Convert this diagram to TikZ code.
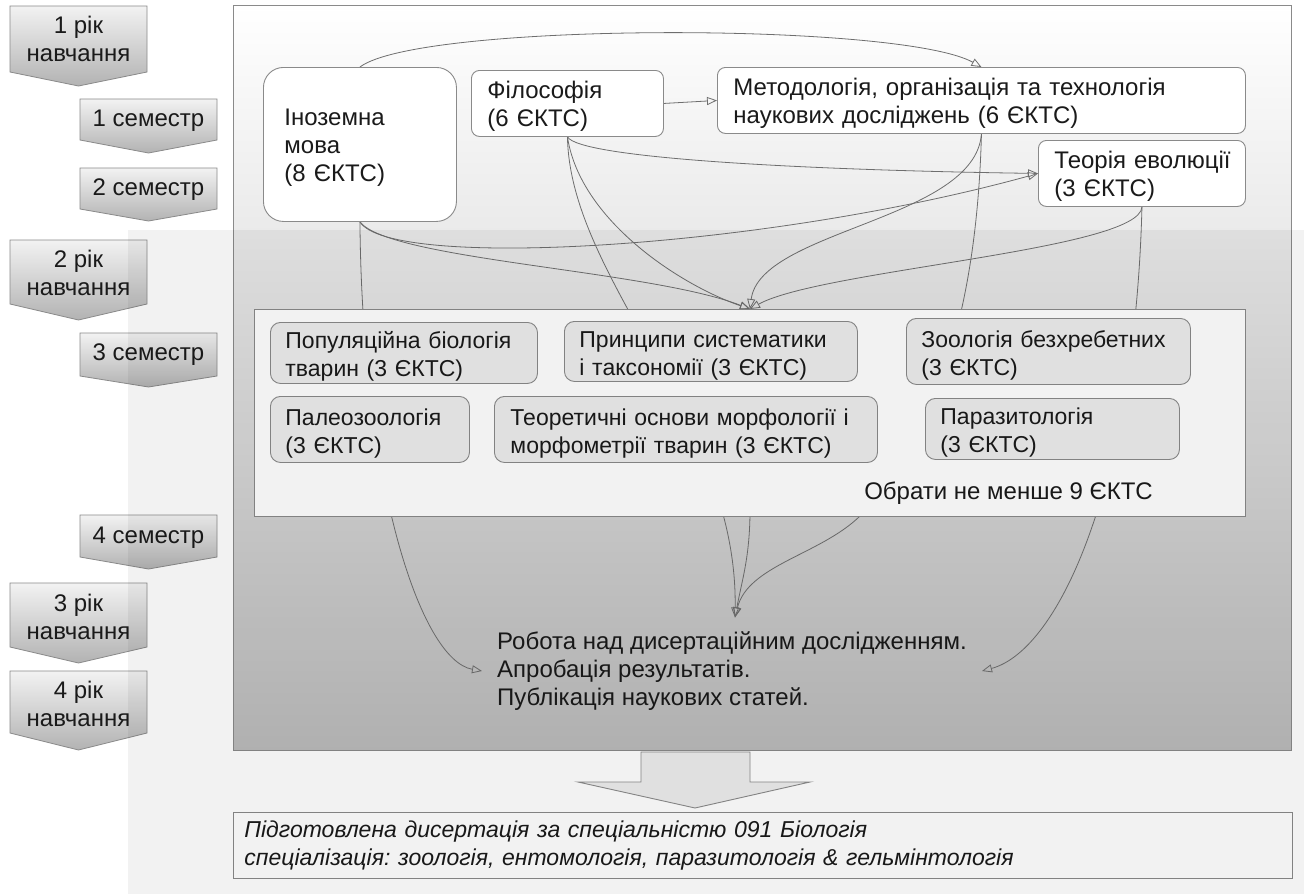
\documentclass[tikz,border=0pt]{standalone}
\usepackage{fontspec}
\setmainfont{Liberation Sans}
\usetikzlibrary{arrows.meta}
\frenchspacing
\pgfdeclarelayer{bg}
\pgfdeclarelayer{lines}
\pgfdeclarelayer{fg}
\pgfsetlayers{bg,lines,main,fg}
\definecolor{ln}{HTML}{6E6E6E}
\definecolor{bd}{HTML}{8A8A8A}
\definecolor{elf}{HTML}{EDEDED}
\definecolor{txt}{HTML}{1A1A1A}
\tikzset{
  conn/.style={draw=ln, line width=0.8pt, -{Triangle[open,length=10pt,width=8pt]}},
  topbox/.style={draw=bd, fill=white, line width=0.9pt, rounded corners=8pt, anchor=north west,
    align=left, inner xsep=16pt, inner ysep=0pt, text height=23pt, font=\fontsize{24}{28}\selectfont, text=txt},
  elbox/.style={draw=bd, fill=elf, line width=0.9pt, rounded corners=10pt, anchor=north west,
    align=left, inner xsep=15pt, inner ysep=0pt, text height=24pt, font=\fontsize{23}{28}\selectfont, text=txt},
  chev/.style={draw=bd, line width=0.8pt, top color=white!95!black, bottom color=white!70!black},
  chevtext/.style={align=center, font=\fontsize{24}{28}\selectfont, text=txt, inner sep=0pt},
}
\newcommand\mychev[8]{%
  \shade[chev] (#2,#4) -- (#3,#4) -- (#3,#5) -- ({(#2+#3)/2},#6) -- (#2,#5) -- cycle;
  \node[chevtext] (#1) at ({(#2+#3)/2},#7) {#8};}
\begin{document}
\begin{tikzpicture}[x=1pt,y=-1pt]
\useasboundingbox (0,0) rectangle (1304,894);
\begin{pgfonlayer}{bg}
\fill[white] (0,0) rectangle (1304,894);
\node[draw=bd, line width=1pt, top color=white, bottom color=black!27, anchor=north west,
  minimum width=1058pt, minimum height=745pt, inner sep=0pt] (main) at (233,5) {};
\mychev{y1}{10}{147}{6}{72}{86}{39}{1 рік\\навчання}
\mychev{s1}{80}{217}{99}{140}{153}{121}{1 семестр}
\mychev{s2}{80}{217}{168}{209}{221}{190}{2 семестр}
\mychev{y2}{10}{147}{240}{304}{320}{273}{2 рік\\навчання}
\mychev{s3}{80}{217}{333}{376}{387}{355}{3 семестр}
\mychev{s4}{80}{217}{515}{557}{569}{538}{4 семестр}
\mychev{y3}{10}{147}{583}{647}{663}{617}{3 рік\\навчання}
\mychev{y4}{10}{147}{671}{733}{750}{704}{4 рік\\навчання}
\end{pgfonlayer}

% top courses
\node[topbox, rounded corners=20pt, inner xsep=21pt, text width=151pt, minimum height=154pt] (ino) at (263,67) {Іноземна\\мова\\(8~ЄКТС)};
\node[topbox, text width=160pt, minimum height=66pt] (fil) at (471,70) {Філософія\\(6~ЄКТС)};
\node[topbox, text width=496pt, minimum height=66pt] (met) at (717,67) {Методологія,~організація~та~технологія\\наукових~досліджень~(6~ЄКТС)};
\node[topbox, text width=175pt, minimum height=66pt] (teo) at (1038,140) {Теорія~еволюції\\(3~ЄКТС)};

% electives
\node[draw=bd, fill=white, line width=0.9pt, anchor=north west, minimum width=991pt, minimum height=207pt, inner sep=0pt] (el) at (254,309) {};
\node[elbox, text width=237pt, minimum height=61pt] (pop) at (270,322) {Популяційна~біологія\\тварин~(3~ЄКТС)};
\node[elbox, text width=263pt, minimum height=60pt] (pri) at (564,321) {Принципи~систематики\\і~таксономії~(3~ЄКТС)};
\node[elbox, text width=254pt, minimum height=66pt] (zoo) at (906,318) {Зоологія~безхребетних\\(3~ЄКТС)};
\node[elbox, text width=169pt, minimum height=66pt] (pal) at (270,396) {Палеозоологія\\(3~ЄКТС)};
\node[elbox, inner xsep=16pt, text width=351pt, minimum height=66pt] (ter) at (494,396) {Теоретичні~основи~морфології~і\\морфометрії~тварин~(3~ЄКТС)};
\node[elbox, text width=224pt, minimum height=61pt] (par) at (925,398) {Паразитологія\\(3~ЄКТС)};
\node[anchor=east, font=\fontsize{24}{28}\selectfont, inner sep=0pt, text=txt] (obr) at (1153,493) {Обрати не менше 9 ЄКТС};

% research
\node[anchor=west, align=left, inner xsep=15pt, inner ysep=14pt, font=\fontsize{24}{28}\selectfont, text=txt] (rob) at (482,671)
  {Робота над дисертаційним дослідженням.\\Апробація результатів.\\Публікація наукових статей.};

% final result
\node[draw=bd, fill=white, line width=0.9pt, anchor=north west, minimum width=1059pt, minimum height=66pt,
  text width=1037pt, inner xsep=11pt, inner ysep=0pt, align=left, text=txt,
  font=\itshape\fontsize{23}{28}\selectfont] (fin) at (233,812)
  {Підготовлена дисертація за спеціальністю 091 Біологія\\спеціалізація: зоологія, ентомологія, паразитологія \& гельмінтологія};

% big arrow
\filldraw[draw=bd, fill=white!93!black, line width=0.9pt] (641,752) -- (750,752) -- (750,782) -- (810,782) -- (695,808) -- (578,782) -- (641,782) -- cycle;

\begin{pgfonlayer}{lines}
\draw[conn] (ino.north) .. controls (420,22) and (900,22) .. (met.north);
\draw[conn] (fil.east) -- (met.west);
\draw[conn] (fil.south) .. controls (580,158) and (800,170) .. (teo.west);
\draw[conn] (ino.south) .. controls (390,270) and (760,250) .. (teo.west);
\draw[conn] (ino.south) .. controls (390,260) and (650,270) .. (el.north);
\draw[conn] (fil.south) .. controls (580,220) and (680,285) .. (el.north);
\draw[conn] (met.south) .. controls (975,220) and (760,230) .. (el.north);
\draw[conn] (teo.south) .. controls (1140,250) and (820,270) .. (el.north);
\draw[conn] (ino.south) .. controls (362,480) and (420,660) .. (rob.west);
\draw[conn] (fil.south) .. controls (570,280) and (738,420) .. ([xshift=3pt]rob.north);
\draw[conn] (met.south) .. controls (975,380) and (900,470) .. (860,516) .. controls (820,555) and (748,565) .. ([xshift=3pt]rob.north);
\draw[conn] (teo.south) .. controls (1135,480) and (1060,650) .. (rob.east);
\draw[conn] (el.south) .. controls (749,560) and (742,580) .. ([xshift=3pt]rob.north);
\end{pgfonlayer}

\begin{pgfonlayer}{fg}
\fill[black, opacity=0.05] (128,230) rectangle (1304,894);
\end{pgfonlayer}
\end{tikzpicture}
\end{document}
